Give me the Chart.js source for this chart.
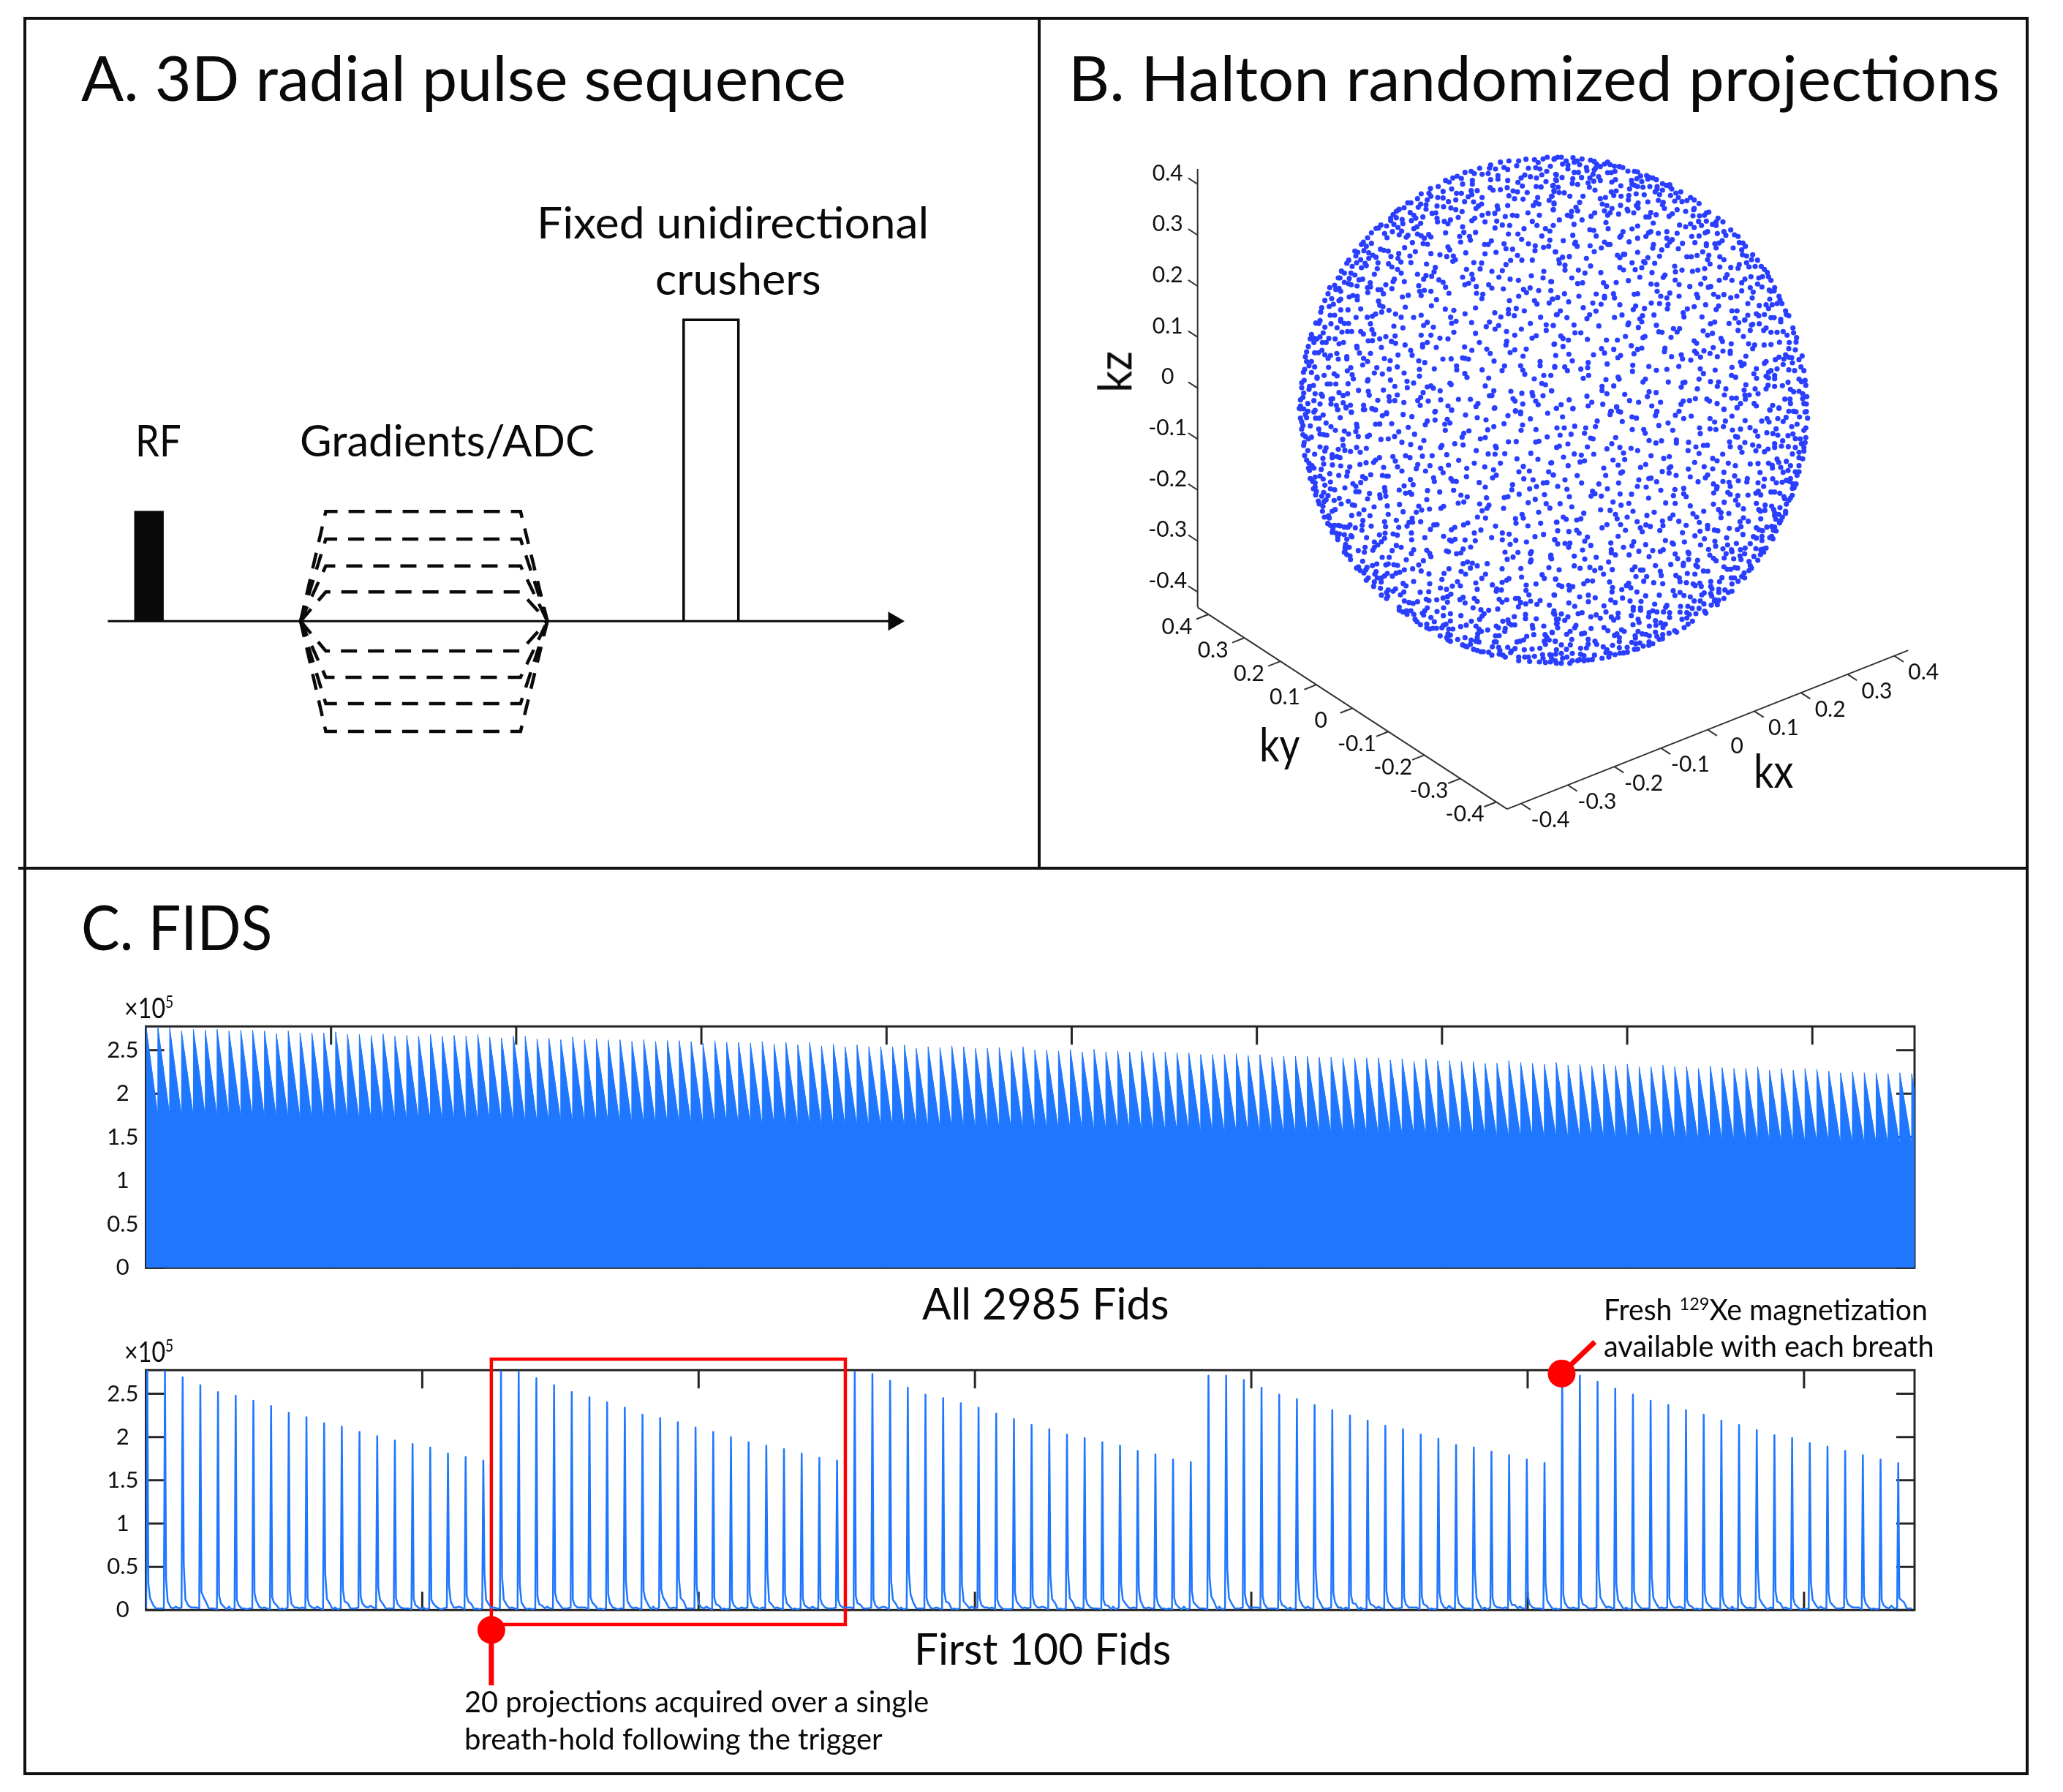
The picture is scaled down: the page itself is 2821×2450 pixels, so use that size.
<!DOCTYPE html>
<html>
<head>
<meta charset="utf-8">
<title>3D radial pulse sequence, Halton projections and FIDs</title>
<script src="https://cdn.jsdelivr.net/npm/chart.js@4"></script>
<style>
html, body { margin: 0; padding: 0; background: #fff; }
#page { position: relative; width: 2821px; height: 2450px; overflow: hidden; font-family: Lato, "Open Sans", sans-serif; color: #0a0a0a; }
canvas { position: absolute; }
.rule { position: absolute; background: #111; }
.lbl { position: absolute; white-space: nowrap; line-height: 1.2; transform-origin: 0 50%; }
.lbl sup { font-size: .6em; line-height: 0; }
</style>
</head>
<body>
<div id="page">
  <div class="rule" style="left:32px;top:23px;width:2742px;height:4px"></div>
  <div class="rule" style="left:32px;top:2423px;width:2742px;height:4px"></div>
  <div class="rule" style="left:32px;top:23px;width:4px;height:2404px"></div>
  <div class="rule" style="left:2770px;top:23px;width:4px;height:2404px"></div>
  <div class="rule" style="left:1419px;top:23px;width:4px;height:1164px"></div>
  <div class="rule" style="left:25px;top:1185px;width:2749px;height:4px"></div>
  <canvas id="seqChart" width="1370" height="960" style="left:40px;top:200px"></canvas>
  <canvas id="haltonChart" width="1340" height="1080" style="left:1430px;top:100px"></canvas>
  <canvas id="allFidChart" width="2640" height="420" style="left:100px;top:1350px"></canvas>
  <canvas id="firstFidChart" width="2640" height="540" style="left:100px;top:1790px"></canvas>
</div>
<script>
// --- Pulse sequence values (time in ms-like units, amplitude in gradient steps) ---
const axisTime = [10.75, 118.6];
const arrowTime = 118.2;
const rfTime = [14.5, 18.24];
const rfAmp = 4.07;
const crusherTime = [89.48, 96.97];
const crusherAmp = 11.24;
const gradLevels = [4.09, 3.06, 2.06, 1.09, -1.11, -2.09, -3.07, -4.11];
const gradTime = [37.1, 40.55, 67.18, 70.85];

// --- k-space axes ---
const kTicks = [-0.4, -0.3, -0.2, -0.1, 0, 0.1, 0.2, 0.3, 0.4];
const kTickLabels = ['-0.4', '-0.3', '-0.2', '-0.1', '0', '0.1', '0.2', '0.3', '0.4'];
const kLimit = 0.43;

const haltonUL = [1037,30,1020,37,1068,35,1050,67,950,38,920,45,912,65,985,40,1000,52,880,45,845,50,860,72,875,80,825,78,805,62,800,75,795,97,770,100,760,75,725,88,738,97,700,92,685,117,668,108,650,115,635,132,620,125,590,150,558,158,610,170,645,160,665,178,690,140,730,125,730,140,750,167,725,167,685,178,713,192,728,183,770,195,803,155,815,165,845,163,873,155,897,168,917,133,935,148,955,175,915,172,880,188,903,200,938,202,998,195,992,150,1012,152,1060,147,1055,190,1045,207,1065,167,1032,130,993,115,968,110,945,103,930,115,960,75,990,73,1007,78,1035,88,1015,102,1072,100,1075,125,835,105,805,122,835,120,875,125,520,180,505,200,545,205,560,190,552,178,588,195,610,197,632,212,662,205,585,230,612,233,642,238,662,245,540,225,540,243,518,222,508,235,478,217,465,217,450,237,430,243,418,252,475,257,490,268,498,280,527,275,565,260,580,258,585,280,587,295,615,293,630,303,640,287,672,277,688,253,698,212,735,213,745,240,755,230,768,222,770,268,795,260,822,260,832,230,835,243,875,228,865,273,895,268,913,270,958,258,1005,268,980,228,990,215,1003,222,1062,245,1065,218,830,292,782,295,740,280,728,290,690,315,695,338,743,338,718,355,722,370,682,378,678,355,620,340,630,398,637,410,597,430,625,437,652,435,660,450,650,457,703,422,736,462,768,464,782,426,780,388,795,388,808,373,827,420,860,385,868,405,895,407,878,345,823,320,853,308,883,310,917,345,932,367,942,323,976,293,995,310,1030,323,1048,333,1015,353,1048,370,988,393,987,413,1022,400,1043,395,960,385,1070,418,915,433,887,453,868,470,933,452,853,495,810,498,762,488,706,490,728,510,732,530,690,522,715,547,699,553,746,560,747,588,773,592,769,610,797,553,810,567,839,522,857,570,885,530,919,535,972,516,1023,498,1020,525,1052,540,967,566,1002,577,1052,577,976,452,940,572,920,600,952,585,882,618,1060,612,1045,628,985,618,995,632,910,650,878,655,878,672,902,680,943,660,1010,686,1075,676,822,668,847,685,800,706,787,725,838,720,823,735,743,648,700,672,727,708,654,658,619,653,641,686,645,711,663,703,654,748,743,752,759,790,698,808,728,822,789,817,803,835,819,866,870,745,871,785,868,800,904,760,968,712,1033,717,1062,720,1033,740,931,735,975,772,992,762,1065,797,951,817,904,820,885,831,938,846,1008,868,1008,885,1068,888,862,886,852,905,928,885,937,903,945,920,984,939,1023,925,1052,925,1015,958,1030,963,1055,988,563,518,540,515,530,530,573,500,578,482,505,510,593,533,610,543,620,563,634,588,510,557,514,580,533,576,560,580,520,597,583,614,562,639,443,603,467,596,451,540,400,569,375,553,410,530,405,540,343,573,355,573,365,590,300,565,312,562,301,585,311,545,280,530,265,533,257,558,233,553,222,548,248,513,225,527,205,543,187,525,180,525,232,505,205,505,193,497,328,510,340,487,400,480,423,490,438,505,386,467,343,463,335,440,322,432,305,445,305,422,285,413,272,450,255,463,215,465,223,452,237,478,275,483,295,475,290,465,353,407,367,412,385,415,396,437,428,425,425,445,437,460,478,462,474,435,496,417,452,401,484,380,528,384,546,387,560,357,551,347,505,345,520,352,533,362,466,350,459,358,430,348,402,335,370,343,380,360,316,340,316,383,300,360,283,378,295,395,275,388,260,420,248,415,252,435,490,323,503,315,518,301,480,290,445,302,442,285,408,305,395,280,405,265,418,278,428,245,395,290,378,312,355,308,335,322,345,320,425,318,440,333,560,425,542,468,170,572,145,565,138,590,165,555,183,568,190,580,153,610,125,617,183,618,190,612,143,642,160,633,112,647,108,665,190,656,220,656,272,652,225,603,258,600,240,597,258,615,345,620,350,637,363,643,388,658,415,673,438,686,455,645,320,682,333,673,358,665,299,686,253,687,147,678,165,678,190,695,190,703,205,712,222,712,150,713,125,727,175,729,88,710,100,712,105,700,118,750,195,747,218,745,235,745,272,745,283,755,312,713,318,737,326,755,408,723,445,730,489,687,520,678,545,707,530,720,570,727,520,760,560,760,597,772,630,775,545,790,526,798,526,808,582,810,70,757,65,775,80,772,80,790,92,775,105,767,141,773,167,775,130,790,115,790,57,806,183,795,201,790,256,805,257,812,303,783,320,782,350,775,375,766,413,763,398,785,415,793,357,810,454,800,477,822,483,842,510,865,535,872,50,828,83,832,98,832,113,822,125,840,148,843,138,855,174,835,180,858,215,848,215,857,267,833,312,835,284,855,300,868,280,882,369,856,393,864,425,841,45,848,50,868,70,868,42,900,60,885,83,890,140,892,231,893,217,906,338,893,389,899,422,890,513,900,513,928,574,898,665,886,666,902,609,858,643,857,690,853,700,855,714,858,770,902,699,917,708,933,797,936,37,912,70,913,163,918,175,927,237,922,242,939,328,915,361,919,450,915,122,925,93,932,93,937,40,945,30,955,30,975,302,942,300,948,394,944,462,949,489,956,135,960,147,960,170,960,220,959,62,970,78,966,60,982,263,986,365,985,412,970,463,975,545,972,560,968,570,977,638,957,643,962,783,968,818,988,800,1008,810,1007,38,997,85,1000,110,1002,115,1010,183,995,200,1007,218,1000,303,990,307,1006,422,1005,528,995,598,988,888,990,933,998,975,995,978,1008,1020,1008,35,1015,25,1025,80,1028,150,1022,157,1020,342,1027,388,1012,390,1030,412,1028,518,1015,506,1028,549,1030,600,1025,673,1023,722,1023,897,1020,905,1030,937,1042,990,1030,1000,1045,55,1040,105,1042,150,1042,172,1048,200,1037,212,1055,230,1047,284,1047,318,1060,330,1065,449,1036,516,1048,630,1050,645,1067,753,1040,745,1052,822,1058,25,1050,25,1062,55,1072,85,1068,178,1065,233,1075,283,1065,378,1078,578,1072,907,1070,928,1075];
const haltonUR = [15,38,30,30,45,30,65,45,50,58,93,32,110,45,98,50,130,37,120,60,165,42,180,47,190,58,205,68,222,58,235,50,245,60,263,67,283,68,297,72,72,62,72,78,148,72,150,85,185,75,180,82,235,93,250,93,265,88,318,87,345,88,358,90,370,107,395,105,405,112,420,115,435,122,400,120,375,130,355,118,333,125,335,140,345,145,358,150,380,153,408,150,438,150,438,160,460,138,475,145,490,143,498,160,460,165,490,150,430,172,448,183,493,187,515,177,535,172,525,195,510,210,540,212,560,208,575,195,590,205,610,220,590,240,588,245,555,252,520,245,500,262,487,272,463,215,460,225,443,207,468,240,400,213,360,218,360,238,353,228,320,205,322,187,352,180,385,184,325,160,270,168,289,147,250,172,260,187,290,190,226,195,205,200,213,222,232,228,253,240,222,250,245,258,235,268,288,227,315,243,318,250,342,258,280,263,392,275,405,275,412,257,434,266,422,300,358,312,335,324,298,335,290,352,285,358,392,355,403,340,412,335,443,342,478,335,478,362,520,342,358,362,323,377,237,323,228,298,162,327,178,330,188,353,222,378,236,388,245,388,209,402,180,417,163,393,103,378,100,385,110,395,53,372,92,350,130,287,97,305,37,287,12,310,70,268,85,272,87,252,105,235,112,250,120,215,134,190,80,190,57,176,36,175,15,170,7,190,15,222,12,245,32,153,12,145,25,102,22,122,48,113,92,118,90,137,112,142,98,92,115,92,128,113,162,115,155,135,160,153,178,128,175,100,198,110,205,125,183,165,167,272,182,258,252,132,267,122,530,308,555,315,575,303,608,293,590,318,620,310,640,292,665,305,612,270,632,268,650,255,640,258,585,270,680,295,688,280,708,295,680,310,645,335,635,340,610,353,580,355,593,380,640,385,640,392,675,385,692,382,705,372,680,402,685,343,712,335,720,350,740,328,755,348,770,355,775,380,790,382,800,395,785,410,750,402,788,430,805,435,830,430,825,450,850,452,805,463,775,470,770,485,740,482,695,480,695,438,712,450,650,432,655,468,645,450,625,418,602,433,578,438,560,438,542,383,525,405,500,368,490,378,480,392,457,410,423,388,420,403,448,436,428,465,400,442,383,458,375,483,388,463,348,491,335,463,300,428,275,432,285,442,305,428,358,420,285,482,300,492,417,503,463,523,470,513,367,522,320,536,270,544,218,545,230,560,207,503,165,476,142,505,115,493,88,525,112,548,132,545,60,473,60,493,35,450,37,465,50,440,78,437,148,445,22,418,540,493,510,477,513,500,512,534,528,552,583,498,605,493,633,487,633,526,617,550,572,560,648,563,658,560,693,535,718,525,725,512,745,535,785,545,798,530,823,520,850,550,855,525,870,520,815,480,840,478,865,478,878,490,890,503,895,520,905,535,785,578,820,565,832,583,868,562,920,565,898,575,905,580,918,578,938,600,942,615,900,612,828,607,810,630,857,638,885,635,895,650,910,635,930,630,950,630,965,660,968,675,978,680,845,672,855,680,878,675,905,688,918,688,945,695,945,705,810,678,798,697,758,690,745,660,766,660,680,655,690,640,637,635,590,643,562,652,545,668,548,685,622,685,528,600,490,587,478,607,453,600,438,580,437,552,413,550,358,590,344,592,263,607,259,590,222,600,222,607,188,591,117,600,58,590,30,605,8,612,75,623,5,540,600,592,605,605,670,592,688,603,712,593,740,606,765,600,483,633,448,630,414,628,480,652,386,650,350,640,340,655,285,635,208,633,174,628,135,647,187,661,161,676,150,692,41,660,28,675,68,688,12,720,97,718,101,750,125,750,263,687,294,677,378,680,367,693,425,677,375,705,199,722,321,710,318,717,361,728,435,719,445,746,458,748,505,733,530,733,520,747,495,769,657,713,674,706,733,712,773,708,797,698,825,718,830,715,857,713,885,730,875,740,905,748,930,748,955,745,971,760,995,730,998,750,1010,770,980,790,1008,788,1005,820,978,815,940,789,905,798,877,800,838,800,830,815,813,795,792,765,770,740,820,740,665,752,645,760,627,742,700,773,706,785,742,795,738,825,738,835,708,825,685,848,655,835,630,824,590,783,600,793,592,825,600,835,576,862,616,850,668,811,43,763,52,773,74,780,17,796,52,806,152,777,230,780,275,780,308,765,380,770,388,765,332,803,375,813,358,818,343,836,260,818,210,815,222,833,177,840,76,838,22,843,90,865,155,872,153,893,125,899,59,890,70,905,18,892,233,878,288,843,277,852,470,813,468,827,497,848,537,840,542,857,338,883,337,908,404,888,435,904,478,900,527,888,615,898,628,917,676,903,745,892,780,870,795,878,785,885,802,846,845,897,835,918,846,937,878,875,885,868,923,860,938,850,958,858,965,840,978,850,990,852,993,873,955,880,930,898,905,905,895,912,885,928,895,935,920,925,920,938,978,902,1002,905,1028,890,1040,905,1020,860,1033,845,1020,940,1045,945,1030,950,1048,965,135,937,157,925,228,942,278,932,282,940,380,952,390,940,484,952,544,955,552,953,537,973,610,940,657,950,690,952,743,925,760,932,685,970,603,980,720,980,802,963,795,985,798,1005,816,1005,840,980,852,1000,893,965,885,980,920,970,952,967,975,953,985,982,998,992,1020,990,1035,1000,1052,1012,1035,1020,5,988,212,970,212,987,232,1000,260,968,305,1003,405,992,398,1012,434,995,150,1010,77,1025,44,1045,170,1035,155,1050,93,1060,25,1060,215,1043,272,1053,325,1028,362,1035,416,1050,452,1035,545,1030,536,1043,571,1028,595,1020,642,1022,653,1030,714,1005,744,1018,763,1018,800,1022,684,1040,712,1063,766,1056,780,1040,836,1040,845,1050,912,1048,900,1066,938,1058,962,1022,983,1022,985,1040,1040,1040,1050,1042,1000,1072,1050,1073,248,1072,280,1072,437,1072];
const haltonLL = [20,10,38,12,55,22,80,25,45,35,25,50,30,65,50,48,35,80,30,95,65,82,100,95,130,70,150,85,168,100,205,103,222,115,255,75,257,87,252,105,262,125,308,120,300,125,105,115,120,118,133,120,35,118,45,125,70,128,57,135,40,150,38,162,198,137,200,162,105,168,130,172,125,185,180,178,207,182,230,187,255,170,295,174,270,190,355,137,385,135,411,125,428,106,467,88,493,116,441,149,477,158,531,142,517,172,600,170,605,162,658,155,692,160,746,183,688,128,695,112,716,102,763,135,783,130,793,98,818,85,860,73,876,40,928,32,968,53,1039,30,991,97,930,100,936,78,702,37,750,48,786,57,619,100,617,75,638,70,627,55,577,58,576,25,545,62,537,77,482,44,446,35,378,32,361,40,333,75,350,74,399,73,188,48,234,26,212,8,177,15,118,37,102,50,87,50,288,15,319,12,333,16,645,17,820,10,907,22,55,183,42,203,83,198,117,215,155,200,155,212,175,208,187,212,50,222,60,235,72,245,120,238,80,255,58,255,62,265,110,260,156,242,190,246,227,250,269,240,294,233,325,232,333,222,349,212,404,208,414,226,423,250,456,204,474,212,525,206,565,204,625,200,674,223,738,235,795,197,823,198,863,196,913,217,970,194,999,219,1052,234,1076,170,878,147,910,146,990,148,1003,145,1037,127,825,165,828,172,145,278,182,285,215,288,218,270,280,290,292,298,313,282,361,285,378,288,385,288,366,252,441,267,500,257,506,240,556,245,538,267,600,256,610,274,632,243,707,256,781,250,845,235,817,262,828,284,813,295,939,248,921,270,964,267,1043,270,1062,283,65,298,85,292,105,288,118,300,75,310,85,315,125,325,148,312,85,332,78,340,90,350,148,340,165,344,207,336,240,319,252,330,272,314,252,352,265,352,308,359,350,365,352,378,370,335,372,350,375,370,300,381,430,345,450,328,487,323,476,302,456,358,473,355,481,362,546,347,571,295,574,310,596,353,642,298,650,308,664,310,653,346,706,290,758,314,783,333,683,366,709,373,788,377,861,376,876,372,895,323,892,344,922,362,941,299,979,303,965,340,993,331,1021,316,1036,314,1026,364,1080,330,87,365,120,355,112,370,138,368,130,385,98,390,102,402,122,392,117,412,115,432,163,388,184,379,192,402,221,391,238,406,247,408,285,426,327,414,381,410,431,404,446,434,510,411,522,427,500,436,554,423,543,384,601,420,612,412,672,399,695,394,760,402,798,407,790,420,770,430,858,420,959,397,988,383,1033,401,1048,419,1002,436,123,456,140,450,143,460,155,432,167,425,235,449,265,443,310,450,385,445,418,469,483,461,485,477,518,475,470,478,462,493,428,498,374,495,370,475,281,470,278,490,277,510,250,500,315,493,137,482,148,490,165,490,180,490,188,492,205,497,220,497,228,488,158,505,155,518,172,522,185,525,178,535,178,548,205,528,232,532,236,537,215,547,296,540,349,529,372,522,370,543,405,525,422,530,480,521,481,549,535,540,612,535,558,506,572,488,585,487,644,508,658,498,694,488,711,480,751,456,784,460,825,493,907,462,934,445,939,460,909,481,958,492,1010,481,1075,477,738,521,765,509,853,521,881,526,853,549,908,551,1022,527,987,536,1068,548,952,558,637,550,645,555,659,547,700,550,742,553,809,540,723,579,885,568,864,600,917,601,972,598,968,605,1052,612,1052,623,357,557,328,558,342,570,328,580,322,592,290,580,287,600,262,593,210,568,208,580,208,590,225,580,205,600,215,610,228,615,230,630,418,572,438,580,401,593,489,590,480,605,543,592,555,605,560,618,624,595,632,598,665,606,683,603,692,587,360,621,389,621,459,631,529,635,280,637,263,660,255,665,270,675,298,662,293,672,285,685,320,655,338,648,375,652,385,648,408,651,423,654,451,672,485,668,510,652,520,677,552,689,634,668,614,687,692,647,710,640,730,645,750,656,722,665,684,679,702,690,791,647,852,668,873,629,897,620,971,632,968,640,929,667,1044,663,1016,692,1025,707,932,702,335,680,330,690,381,687,370,697,357,705,340,705,432,682,417,686,402,698,295,715,303,705,328,722,325,740,356,722,489,720,446,728,458,738,555,729,605,712,599,747,624,752,648,739,669,721,681,738,744,726,769,707,784,690,750,752,812,734,852,724,871,715,880,708,830,750,828,760,849,755,951,735,950,757,991,730,1071,710,353,748,385,755,378,765,415,750,405,760,357,776,383,780,378,790,449,763,435,775,516,764,551,762,642,772,628,782,610,788,584,795,541,793,552,798,451,800,470,806,487,810,505,803,692,785,679,794,738,790,750,802,840,793,852,805,871,795,907,790,919,790,919,824,928,806,949,812,969,801,995,814,1008,798,962,775,1067,776,1046,817,628,805,700,808,733,828,765,836,797,838,834,833,612,828,585,843,640,852,683,860,430,825,430,838,445,845,460,840,462,855,478,840,490,855,545,828,535,840,525,850,530,858,560,868,495,875,503,885,517,897,574,885,611,860,611,900,622,895,640,882,726,883,760,875,770,862,778,852,855,883,876,878,880,892,890,898,904,898,902,864,948,855,948,872,992,873,1063,850,1068,855,1075,875,976,900,978,912,1023,903,1075,893,543,895,543,910,555,915,568,912,583,912,605,910,633,915,650,915,682,905,705,899,745,903,757,915,767,925,752,935,750,950,793,919,828,903,837,910,865,913,863,925,1057,928,1028,938,1035,948,598,943,630,935,640,940,625,950,630,960,640,965,670,958,700,950,745,965,725,960,722,978,757,968,825,943,840,942,913,968,925,965,940,960,953,945,982,938,1025,965,1030,978,1045,960,1070,965,820,968,828,968,690,980,700,985,708,988,735,998,750,1003,765,1008,775,1008,812,988,797,1010,838,990,843,1003,875,990,905,995,890,1005,887,1012,810,1022,840,1018,855,1022,865,1030,943,1000,975,997,1007,994,1018,1020,1048,1020,1075,1000,920,1030,920,1045,945,1030,960,1030,965,1048,985,1027,1020,1035,1005,1050,1030,1052,1050,1050,1070,1045];
const haltonLR = [25,10,92,12,250,22,245,35,272,5,288,25,50,45,27,90,57,90,100,83,145,90,140,112,85,116,40,120,185,85,192,62,165,132,175,135,268,130,252,155,285,170,300,193,232,176,331,174,358,183,335,45,353,50,295,64,336,97,383,97,389,112,445,80,483,70,513,38,528,22,431,40,436,25,547,52,578,42,502,100,405,142,433,152,456,143,517,140,517,152,567,149,597,168,628,162,644,161,565,183,610,195,655,52,674,66,718,62,745,42,655,94,679,97,710,85,612,90,615,113,766,8,712,14,938,10,901,17,799,60,867,62,889,52,897,66,933,52,955,64,967,47,978,22,997,22,1008,24,1022,45,1045,25,1055,50,990,85,1012,75,926,94,888,110,913,113,933,120,975,122,995,115,1048,90,1040,100,819,89,841,103,851,124,780,95,747,99,760,125,768,128,735,147,738,167,778,170,798,150,786,190,830,160,855,165,843,184,878,188,893,177,920,155,920,170,953,143,948,165,976,167,1005,134,1025,135,1048,130,1045,150,1030,155,1040,170,1040,185,1020,190,1005,170,993,197,1020,212,1035,217,37,165,72,156,152,168,98,197,127,202,178,198,54,210,122,230,140,225,5,233,73,245,257,222,278,243,305,220,219,255,227,285,289,275,296,270,413,204,465,215,488,208,370,252,391,240,459,269,487,255,494,249,487,275,516,285,566,259,592,232,631,249,666,258,666,215,684,225,707,198,730,235,759,245,712,272,756,287,820,238,852,236,895,235,910,243,911,255,930,218,937,232,968,227,945,252,985,245,1020,245,955,272,975,265,1005,270,1020,270,1012,285,860,273,12,283,110,286,60,303,128,316,199,320,280,316,363,303,404,298,413,296,436,311,574,291,606,311,636,295,645,283,669,320,708,310,733,313,771,307,808,298,806,312,878,300,852,315,912,299,927,315,951,313,968,305,985,298,982,310,995,320,1008,320,1000,335,993,338,68,342,78,372,167,370,173,350,183,360,209,370,234,340,286,361,333,362,357,330,393,333,403,378,453,346,511,343,505,368,547,338,547,360,557,372,684,332,682,340,738,330,728,355,738,363,670,357,769,368,811,366,853,350,843,358,863,365,875,330,905,353,920,353,941,358,958,372,961,380,992,367,985,378,978,388,257,394,290,407,322,400,40,401,88,414,473,398,512,400,574,410,669,403,713,395,760,387,770,406,845,400,881,407,908,411,942,417,968,403,792,422,855,425,880,428,862,432,916,425,920,438,965,432,965,440,937,445,952,456,920,450,925,465,945,470,940,480,137,440,206,426,245,428,267,445,339,432,426,436,396,449,690,425,700,437,732,441,629,432,585,442,600,456,503,447,491,461,53,456,65,465,108,468,125,463,27,477,274,463,315,456,356,475,460,472,462,491,392,488,410,494,369,500,527,473,557,490,611,478,700,458,792,459,778,475,812,473,863,463,782,495,767,507,888,497,908,494,920,497,845,500,856,508,870,512,915,510,926,513,212,500,232,487,288,487,308,510,377,516,449,511,542,520,614,514,645,490,645,503,673,509,687,512,734,502,790,527,833,536,845,542,868,535,868,552,908,535,913,545,900,540,30,512,76,515,108,510,118,522,18,549,152,538,278,535,472,552,593,533,632,545,723,541,30,566,60,564,80,563,75,580,141,555,166,572,248,562,342,557,335,574,300,580,391,569,500,562,505,567,550,558,616,570,675,555,678,575,727,570,649,589,708,586,743,590,763,564,799,583,820,565,745,598,780,590,843,585,863,590,873,587,885,583,875,600,132,591,250,590,250,602,267,611,363,596,420,593,451,597,463,590,323,611,405,618,512,607,565,600,568,605,721,606,778,615,797,606,2,615,5,627,98,616,141,628,188,621,654,612,669,625,680,635,713,624,752,627,782,630,815,638,835,617,851,633,862,610,522,626,567,629,604,633,239,640,546,645,545,655,494,650,597,653,604,660,431,655,712,660,726,670,740,670,757,663,768,665,820,655,825,665,815,675,98,656,122,666,36,672,162,662,182,675,206,665,254,671,218,690,336,672,347,660,370,673,380,673,451,678,455,695,351,700,395,700,515,695,529,705,562,687,593,690,628,677,646,678,795,685,785,700,797,705,22,711,152,717,173,718,137,729,243,722,321,727,312,737,383,719,424,725,461,729,532,721,558,725,658,720,694,721,704,704,742,705,755,705,745,730,770,719,35,735,47,740,75,736,92,741,78,755,255,745,330,746,293,753,586,730,613,727,594,737,619,740,658,740,663,750,691,752,691,765,716,755,730,765,745,760,253,763,355,763,504,758,532,765,511,778,548,778,15,775,120,783,156,776,184,787,296,788,391,779,447,776,574,783,631,767,621,775,658,770,662,780,248,796,266,806,327,800,372,802,428,813,156,803,76,808,100,822,220,820,590,800,615,800,630,812,675,795,690,797,712,790,660,817,685,815,673,800,478,818,473,826,534,822,564,822,582,830,610,830,340,826,370,828,370,838,340,838,332,860,15,840,15,850,45,853,72,865,59,880,33,874,114,852,130,848,166,865,188,857,205,871,228,845,250,866,278,850,260,878,277,868,405,848,403,865,420,840,437,845,464,845,489,848,489,868,532,846,560,848,570,855,597,852,633,842,638,850,360,875,364,888,339,897,431,881,453,890,472,895,433,900,406,903,462,908,28,892,30,910,105,900,100,910,167,913,220,909,236,922,292,918,303,925,360,925,377,935,392,937,406,943,431,928,461,938,487,932,510,922,518,928,549,909,540,875,560,870,583,883,565,895,8,930,67,937,81,925,128,935,140,932,263,941,273,935,283,950,348,942,349,952,437,945,447,958,460,955,20,965,88,958,155,957,183,965,190,978,283,967,334,970,350,975,367,972,405,968,420,975,404,982,381,985,45,980,82,980,155,977,255,982,148,993,124,994,66,998,217,988,232,1000,283,992,315,990,345,998,358,997,45,1015,22,1018,90,1015,124,1018,138,1025,181,1022,228,1012,245,1015,265,1020,285,1014,300,1013,316,1010,3,1022,5,1035,50,1035,68,1030,120,1040,212,1035,240,1030,90,1045,112,1045,138,1045,155,1042,172,1040,25,1055,45,1055,80,1055];

// --- All 2985 FIDs: one breath every 1280 samples, top and bottom of each tooth (x 1e5) ---
const samplesTotal = 191040;
const samplesPerBreath = 1280;
const allFidXTicks = [0, 20000, 40000, 60000, 80000, 100000, 120000, 140000, 160000, 180000];
const breathPeaks = [2.78,2.77,2.76,2.72,2.74,2.73,2.74,2.72,2.73,2.73,2.72,2.69,2.72,2.70,2.70,2.70,2.71,2.68,2.68,2.67,2.69,2.66,2.67,2.66,2.68,2.66,2.67,2.66,2.68,2.65,2.64,2.66,2.66,2.63,2.64,2.62,2.65,2.62,2.63,2.62,2.62,2.60,2.62,2.60,2.61,2.61,2.60,2.58,2.61,2.59,2.59,2.58,2.60,2.57,2.59,2.56,2.59,2.55,2.57,2.54,2.56,2.54,2.54,2.54,2.56,2.52,2.54,2.53,2.55,2.54,2.52,2.52,2.53,2.50,2.54,2.50,2.50,2.49,2.51,2.48,2.51,2.48,2.49,2.48,2.49,2.47,2.48,2.47,2.47,2.45,2.45,2.45,2.46,2.44,2.45,2.42,2.43,2.43,2.43,2.42,2.42,2.41,2.41,2.41,2.41,2.39,2.40,2.37,2.40,2.38,2.38,2.37,2.37,2.35,2.35,2.38,2.36,2.35,2.34,2.36,2.33,2.34,2.32,2.34,2.32,2.34,2.31,2.31,2.33,2.31,2.31,2.29,2.32,2.30,2.29,2.29,2.31,2.27,2.29,2.27,2.29,2.28,2.26,2.24,2.25,2.24,2.24,2.23,2.24,2.23];
const breathTroughs = [1.76,1.76,1.75,1.75,1.75,1.74,1.74,1.74,1.73,1.73,1.73,1.72,1.72,1.71,1.71,1.71,1.71,1.70,1.70,1.70,1.70,1.69,1.70,1.69,1.69,1.69,1.68,1.68,1.69,1.68,1.68,1.67,1.67,1.67,1.68,1.67,1.67,1.66,1.67,1.66,1.66,1.66,1.65,1.66,1.66,1.65,1.65,1.65,1.66,1.65,1.65,1.64,1.65,1.64,1.64,1.64,1.64,1.63,1.63,1.63,1.62,1.63,1.62,1.62,1.62,1.61,1.61,1.61,1.61,1.60,1.60,1.60,1.60,1.60,1.60,1.60,1.59,1.59,1.59,1.58,1.59,1.58,1.58,1.58,1.57,1.57,1.57,1.57,1.56,1.56,1.55,1.56,1.55,1.55,1.55,1.54,1.54,1.54,1.54,1.54,1.54,1.53,1.53,1.53,1.52,1.53,1.52,1.52,1.52,1.51,1.51,1.51,1.51,1.50,1.50,1.50,1.50,1.49,1.50,1.49,1.49,1.49,1.49,1.48,1.48,1.48,1.47,1.47,1.47,1.47,1.46,1.46,1.46,1.46,1.45,1.45,1.45,1.44,1.44,1.44,1.44,1.44,1.43,1.43,1.43,1.43,1.42,1.42,1.42,1.42];

// --- First 100 FIDs: 64 samples each (x 1e5) ---
const samplesPerFid = 64;
const samplesFirst = 6400;
const firstFidXTicks = [0, 1000, 2000, 3000, 4000, 5000, 6000];
const fidPeaks = [2.78,2.76,2.69,2.60,2.52,2.48,2.42,2.36,2.28,2.23,2.16,2.12,2.06,2.01,1.96,1.92,1.88,1.81,1.77,1.73,
  2.76,2.75,2.68,2.60,2.52,2.46,2.40,2.34,2.26,2.22,2.17,2.11,2.06,2.00,1.94,1.90,1.86,1.81,1.76,1.73,
  2.75,2.73,2.65,2.57,2.49,2.45,2.39,2.34,2.27,2.21,2.14,2.09,2.03,1.99,1.94,1.90,1.84,1.80,1.74,1.71,
  2.71,2.71,2.66,2.57,2.49,2.44,2.37,2.31,2.25,2.19,2.13,2.09,2.03,1.98,1.91,1.88,1.83,1.79,1.74,1.70,
  2.77,2.71,2.64,2.56,2.49,2.42,2.37,2.31,2.26,2.19,2.14,2.08,2.02,1.99,1.93,1.89,1.84,1.79,1.74,1.70];
const fidShoulders = [0.30,0.36,0.53,0.21,0.17,0.12,0.20,0.15,0.22,0.14,0.42,0.24,0.16,0.26,0.14,0.13,0.12,0.28,0.17,0.43,
  0.38,0.30,0.16,0.20,0.12,0.15,0.18,0.34,0.22,0.24,0.36,0.30,0.14,0.12,0.20,0.46,0.18,0.14,0.13,0.12,
  0.16,0.13,0.33,0.44,0.14,0.22,0.30,0.14,0.12,0.20,0.16,0.40,0.44,0.14,0.12,0.30,0.24,0.15,0.14,0.22,
  0.38,0.48,0.18,0.16,0.12,0.36,0.46,0.20,0.17,0.14,0.22,0.15,0.16,0.20,0.18,0.46,0.14,0.12,0.16,0.30,
  0.18,0.16,0.44,0.30,0.22,0.38,0.14,0.12,0.20,0.16,0.18,0.46,0.22,0.14,0.32,0.20,0.14,0.16,0.12,0.14];
const fidTails = [0.14,0.10,0.12,0.16,0.08,0.06,0.11,0.09,0.07,0.06,0.13,0.10,0.08,0.12,0.07,0.06,0.08,0.10,0.10,0.12,
  0.12,0.09,0.07,0.11,0.06,0.09,0.08,0.10,0.13,0.15,0.14,0.08,0.07,0.06,0.09,0.10,0.08,0.06,0.07,0.06,
  0.08,0.06,0.12,0.18,0.07,0.10,0.10,0.06,0.06,0.10,0.07,0.13,0.14,0.07,0.06,0.12,0.11,0.07,0.07,0.09,
  0.16,0.14,0.08,0.07,0.06,0.12,0.15,0.09,0.08,0.07,0.10,0.07,0.07,0.09,0.08,0.14,0.06,0.06,0.07,0.11,
  0.08,0.07,0.15,0.12,0.10,0.14,0.07,0.06,0.09,0.07,0.08,0.13,0.10,0.07,0.12,0.09,0.07,0.08,0.06,0.12];
const fidBumps = [0.06,0.03,0.05,0.09,0.04,0.02,0.04,0.05,0.03,0.03,0.07,0.08,0.04,0.07,0.03,0.03,0.04,0.03,0.07,0.06,
  0.06,0.03,0.05,0.06,0.03,0.05,0.03,0.04,0.06,0.09,0.10,0.03,0.05,0.02,0.03,0.06,0.04,0.03,0.03,0.03,
  0.06,0.02,0.07,0.08,0.02,0.08,0.06,0.03,0.02,0.05,0.03,0.08,0.09,0.03,0.05,0.07,0.03,0.02,0.03,0.05,
  0.09,0.07,0.02,0.02,0.04,0.05,0.08,0.03,0.07,0.05,0.05,0.03,0.05,0.03,0.04,0.06,0.03,0.06,0.03,0.05,
  0.03,0.05,0.08,0.06,0.05,0.07,0.03,0.04,0.05,0.03,0.04,0.07,0.08,0.03,0.06,0.05,0.04,0.03,0.03,0.09];
const fidRipples = [0.02,0.04,0.03,0.02,0.04,0.01,0.03,0.02,0.02,0.04,0.03,0.02,0.05,0.02,0.02,0.03,0.01,0.04,0.02,0.03,
  0.03,0.02,0.04,0.02,0.03,0.02,0.01,0.03,0.04,0.02,0.02,0.04,0.02,0.03,0.01,0.03,0.02,0.04,0.02,0.03,
  0.02,0.04,0.03,0.02,0.03,0.02,0.04,0.02,0.01,0.03,0.04,0.02,0.03,0.02,0.04,0.02,0.03,0.01,0.04,0.02,
  0.04,0.02,0.03,0.02,0.03,0.04,0.02,0.01,0.03,0.04,0.02,0.03,0.02,0.05,0.02,0.03,0.02,0.04,0.02,0.02,
  0.03,0.02,0.04,0.03,0.02,0.03,0.04,0.02,0.02,0.04,0.03,0.01,0.03,0.02,0.04,0.02,0.03,0.02,0.05,0.02];
const fidFloors = [0.02,0.02,0.03,0.02,0.01,0.02,0.02,0.01,0.03,0.02,0.01,0.02,0.03,0.02,0.02,0.01,0.02,0.03,0.01,0.02,
  0.02,0.01,0.02,0.02,0.03,0.01,0.02,0.02,0.01,0.03,0.02,0.02,0.01,0.02,0.03,0.02,0.01,0.02,0.02,0.03,
  0.02,0.03,0.01,0.02,0.02,0.01,0.02,0.03,0.01,0.02,0.03,0.01,0.02,0.02,0.01,0.03,0.02,0.02,0.01,0.02,
  0.01,0.02,0.03,0.02,0.01,0.02,0.02,0.03,0.01,0.02,0.02,0.03,0.01,0.02,0.02,0.01,0.03,0.02,0.02,0.01,
  0.02,0.02,0.03,0.01,0.02,0.02,0.03,0.01,0.02,0.01,0.02,0.03,0.02,0.01,0.02,0.02,0.03,0.01,0.02,0.02];

// --- Annotations on the first 100 FIDs, in sample / 1e5 units ---
const breathBoxSamples = [1250, 2531];
const breathBoxLevels = [-0.166, 2.90];
const triggerMark = [1250, -0.23];
const triggerLeader = [1250, -0.87];
const freshMark = [5123, 2.734];
const freshLeader = [5243, 3.10];

const yTickLabels = ['0', '0.5', '1', '1.5', '2', '2.5'];
const lineBlue = '#2077ff';
const frameColor = '#262626';
const labelFont = 'Lato, "Open Sans", sans-serif';

Chart.defaults.animation = false;
Chart.defaults.responsive = false;
Chart.defaults.font.family = labelFont;
Chart.defaults.layout.autoPadding = false;
Chart.defaults.plugins.legend.display = false;
Chart.defaults.plugins.tooltip.enabled = false;

// --- Page labels ---
const labels = [
  ['A. 3D radial pulse sequence', 111, 138, 1046, 86],
  ['B. Halton randomized projections', 1461, 138, 1274, 86],
  ['C. FIDS', 111, 1299, 262, 86],
  ['Fixed unidirectional', 734, 326, 536, 60],
  ['crushers', 896, 403, 227, 60],
  ['RF', 185, 624, 63, 60],
  ['Gradients/ADC', 410, 624, 403, 60],
  ['ky', 1722, 1042, 56, 64],
  ['kx', 2398, 1078, 54, 64],
  ['All 2985 Fids', 1261, 1804, 338, 60],
  ['First 100 Fids', 1250, 2276, 351, 60],
  ['&times;10<sup>5</sup>', 170, 1393, 67, 38],
  ['&times;10<sup>5</sup>', 170, 1863, 67, 38],
  ['Fresh <sup>129</sup>Xe magnetization', 2193, 1805, 443, 40],
  ['available with each breath', 2193, 1855, 452, 40],
  ['20 projections acquired over a single', 635, 2341, 635, 40],
  ['breath-hold following the trigger', 635, 2392, 572, 40]
];

function addLabels() {
  const page = document.getElementById('page');
  labels.forEach(([text, x, baseline, width, size]) => {
    const el = document.createElement('div');
    el.className = 'lbl';
    el.innerHTML = text;
    el.style.left = x + 'px';
    el.style.top = (baseline - 0.987 * size) + 'px';
    el.style.fontSize = size + 'px';
    page.appendChild(el);
    el.style.transform = 'scaleX(' + (width / el.offsetWidth).toFixed(3) + ')';
  });
  const kz = document.createElement('div');
  kz.className = 'lbl';
  kz.textContent = 'kz';
  kz.style.cssText += 'left:1493px;top:470px;font-size:64px;transform-origin:50% 50%;transform:rotate(-90deg) scaleX(.92)';
  page.appendChild(kz);
}

// --- Chart A ---
function pulsePoints(time, amp) {
  return [{x: time[0], y: 0}, {x: time[0], y: amp}, {x: time[1], y: amp}, {x: time[1], y: 0}];
}

function drawSequence() {
  const gradSets = gradLevels.map(level => ({
    data: [
      {x: gradTime[0], y: 0}, {x: gradTime[1], y: level},
      {x: gradTime[2], y: level}, {x: gradTime[3], y: 0}
    ],
    borderColor: '#0a0a0a', borderWidth: 4.5, borderDash: [22, 15], showLine: true, pointRadius: 0
  }));
  new Chart(document.getElementById('seqChart'), {
    type: 'scatter',
    data: {
      datasets: [
        { data: [{x: axisTime[0], y: 0}, {x: axisTime[1], y: 0}], borderColor: '#0a0a0a', borderWidth: 3, showLine: true, pointRadius: 0 },
        { data: [{x: arrowTime, y: 0}], pointStyle: 'triangle', rotation: 90, radius: 15, backgroundColor: '#0a0a0a', borderWidth: 0 },
        { data: pulsePoints(rfTime, rfAmp), borderColor: '#0a0a0a', backgroundColor: '#0a0a0a', fill: 'origin', showLine: true, pointRadius: 0 },
        { data: pulsePoints(crusherTime, crusherAmp), borderColor: '#0a0a0a', borderWidth: 3.5, showLine: true, pointRadius: 0 }
      ].concat(gradSets)
    },
    options: {
      scales: {
        x: { type: 'linear', display: false, min: 0, max: 137 },
        y: { type: 'linear', display: false, min: -8.473, max: 17.707 }
      }
    }
  });
}

// --- Chart B ---
const viewPx = 697;
const kxDir = [0.915, 0.362];
const kyDir = [-0.706, 0.46];
function project(kx, ky, kz) {
  return { x: kx * kxDir[0] + ky * kyDir[0], y: kx * kxDir[1] + ky * kyDir[1] + kz };
}

function readHalton(flat, offsetX, offsetY) {
  const pts = [];
  for (let i = 0; i < flat.length; i += 2) {
    pts.push({ x: (flat[i] / 3 + offsetX) / viewPx, y: (offsetY - flat[i + 1] / 3) / viewPx });
  }
  return pts;
}

const kTickLabelPlugin = {
  id: 'kTickLabels',
  afterDatasetsDraw(chart) {
    const { ctx, scales } = chart;
    ctx.save();
    ctx.font = '30px ' + labelFont;
    ctx.fillStyle = '#111';
    ctx.textAlign = 'center';
    ctx.textBaseline = 'middle';
    kTicks.forEach((t, i) => {
      const spots = [
        [project(-kLimit, kLimit, t), -41, -15],
        [project(-kLimit, t, -kLimit), -43, 17],
        [project(t, -kLimit, -kLimit), 40, 23]
      ];
      spots.forEach(([p, dx, dy]) => {
        ctx.fillText(kTickLabels[i], scales.x.getPixelForValue(p.x) + dx, scales.y.getPixelForValue(p.y) + dy);
      });
    });
    ctx.restore();
  }
};

function drawHalton() {
  const axisLine = { borderColor: '#333', borderWidth: 2, showLine: true, pointRadius: 0 };
  const axes = [
    [project(-kLimit, kLimit, -kLimit), project(-kLimit, kLimit, kLimit)],
    [project(-kLimit, kLimit, -kLimit), project(-kLimit, -kLimit, -kLimit)],
    [project(-kLimit, -kLimit, -kLimit), project(kLimit, -kLimit, -kLimit)]
  ];
  const tickLen = 0.026;
  const tickSets = [];
  kTicks.forEach(t => {
    tickSets.push([project(-kLimit, kLimit, t), project(-kLimit, kLimit + tickLen, t)]);
    tickSets.push([project(-kLimit, t, -kLimit), project(-kLimit - tickLen, t, -kLimit)]);
    tickSets.push([project(t, -kLimit, -kLimit), project(t, -kLimit - tickLen, -kLimit)]);
  });
  const points = [].concat(
    readHalton(haltonUL, -353.5, 355),
    readHalton(haltonUR, -3.5, 355),
    readHalton(haltonLL, -353.5, 5),
    readHalton(haltonLR, -3.5, 5)
  );
  new Chart(document.getElementById('haltonChart'), {
    type: 'scatter',
    data: {
      datasets: axes.concat(tickSets).map(seg => Object.assign({ data: seg }, axisLine)).concat([
        { data: points, pointRadius: 3.6, backgroundColor: '#2a3eff', borderWidth: 0 }
      ])
    },
    options: {
      scales: {
        x: { type: 'linear', display: false, min: -693.5 / viewPx, max: 646.5 / viewPx },
        y: { type: 'linear', display: false, min: -620 / viewPx, max: 460 / viewPx }
      }
    },
    plugins: [kTickLabelPlugin]
  });
}

// --- Charts C: MATLAB style box with inward ticks, below the traces ---
const fidFramePlugin = {
  id: 'fidFrame',
  beforeDatasetsDraw(chart) {
    const { ctx, chartArea: a, scales } = chart;
    ctx.save();
    ctx.strokeStyle = frameColor;
    ctx.lineWidth = 3;
    ctx.strokeRect(a.left, a.top, a.right - a.left, a.bottom - a.top);
    ctx.beginPath();
    scales.x.ticks.forEach(t => {
      const px = scales.x.getPixelForValue(t.value);
      ctx.moveTo(px, a.top); ctx.lineTo(px, a.top + 25);
      ctx.moveTo(px, a.bottom); ctx.lineTo(px, a.bottom - 25);
    });
    scales.y.ticks.forEach(t => {
      const py = scales.y.getPixelForValue(t.value);
      ctx.moveTo(a.left, py); ctx.lineTo(a.left + 25, py);
      ctx.moveTo(a.right, py); ctx.lineTo(a.right - 25, py);
    });
    ctx.stroke();
    ctx.restore();
  }
};

// red dots sit outside the plot area, where Chart.js skips points, so they are drawn here from the scales
const freshMarkPlugin = {
  id: 'redMarks',
  afterDatasetsDraw(chart) {
    const { ctx, scales } = chart;
    ctx.save();
    ctx.fillStyle = '#ff0000';
    [triggerMark, freshMark].forEach(([x, y]) => {
      ctx.beginPath();
      ctx.arc(scales.x.getPixelForValue(x), scales.y.getPixelForValue(y), 19, 0, Math.PI * 2);
      ctx.fill();
    });
    ctx.restore();
  }
};

function fidScales(xMax, xTicks) {
  return {
    x: {
      type: 'linear', min: 0, max: xMax,
      border: { display: false }, grid: { display: false },
      ticks: { display: false, autoSkip: false },
      afterBuildTicks(scale) { scale.ticks = xTicks.map(v => ({ value: v })); },
      afterFit(scale) { scale.height = 0; }
    },
    y: {
      type: 'linear', min: 0, max: 2.773,
      border: { display: false }, grid: { display: false },
      ticks: {
        stepSize: 0.5, includeBounds: false, padding: 2, crossAlign: 'center', color: '#111',
        font: { size: 31 },
        callback: (v, i) => yTickLabels[i]
      },
      afterFit(scale) { scale.width = 99.5; }
    }
  };
}

function drawAllFids() {
  const teeth = [];
  breathPeaks.forEach((peak, i) => {
    teeth.push({ x: i * samplesPerBreath + 10, y: peak });
    teeth.push({ x: (i + 1) * samplesPerBreath, y: breathTroughs[i] });
  });
  new Chart(document.getElementById('allFidChart'), {
    type: 'scatter',
    data: {
      datasets: [{
        data: teeth, showLine: true, pointRadius: 0, borderWidth: 1,
        borderColor: lineBlue, backgroundColor: lineBlue, fill: 'origin'
      }]
    },
    options: {
      layout: { padding: { top: 53.3, bottom: 36.7, left: 0, right: 122 } },
      scales: fidScales(samplesTotal, allFidXTicks)
    },
    plugins: [fidFramePlugin]
  });
}

function drawFirstFids() {
  const trace = [];
  fidPeaks.forEach((peak, k) => {
    const start = k * samplesPerFid;
    trace.push({ x: start + 1, y: fidFloors[k] });
    trace.push({ x: start + 5, y: peak });
    trace.push({ x: start + 9, y: fidShoulders[k] });
    trace.push({ x: start + 15, y: fidTails[k] });
    trace.push({ x: start + 26, y: fidBumps[k] });
    trace.push({ x: start + 36, y: fidFloors[k] });
    trace.push({ x: start + 44, y: fidRipples[k] });
    trace.push({ x: start + 54, y: fidFloors[k] });
  });
  const redLine = { borderColor: '#ff0000', showLine: true, pointRadius: 0, clip: false };
  const [bx0, bx1] = breathBoxSamples;
  const [by0, by1] = breathBoxLevels;
  new Chart(document.getElementById('firstFidChart'), {
    type: 'scatter',
    data: {
      datasets: [
        {
          data: trace, showLine: true, pointRadius: 0, borderWidth: 2.5,
          borderColor: lineBlue, borderJoinStyle: 'round'
        },
        Object.assign({
          data: [{x: bx0, y: by0}, {x: bx0, y: by1}, {x: bx1, y: by1}, {x: bx1, y: by0}, {x: bx0, y: by0}],
          borderWidth: 4.5
        }, redLine),
        Object.assign({
          data: [{x: triggerMark[0], y: triggerMark[1]}, {x: triggerLeader[0], y: triggerLeader[1]}],
          borderWidth: 7
        }, redLine),
        Object.assign({
          data: [{x: freshMark[0], y: freshMark[1]}, {x: freshLeader[0], y: freshLeader[1]}],
          borderWidth: 7
        }, redLine)
      ]
    },
    options: {
      layout: { padding: { top: 83.3, bottom: 128.7, left: 0, right: 122 } },
      scales: fidScales(samplesFirst, firstFidXTicks)
    },
    plugins: [fidFramePlugin, freshMarkPlugin]
  });
}

addLabels();
drawSequence();
drawHalton();
drawAllFids();
drawFirstFids();
</script>
</body>
</html>
